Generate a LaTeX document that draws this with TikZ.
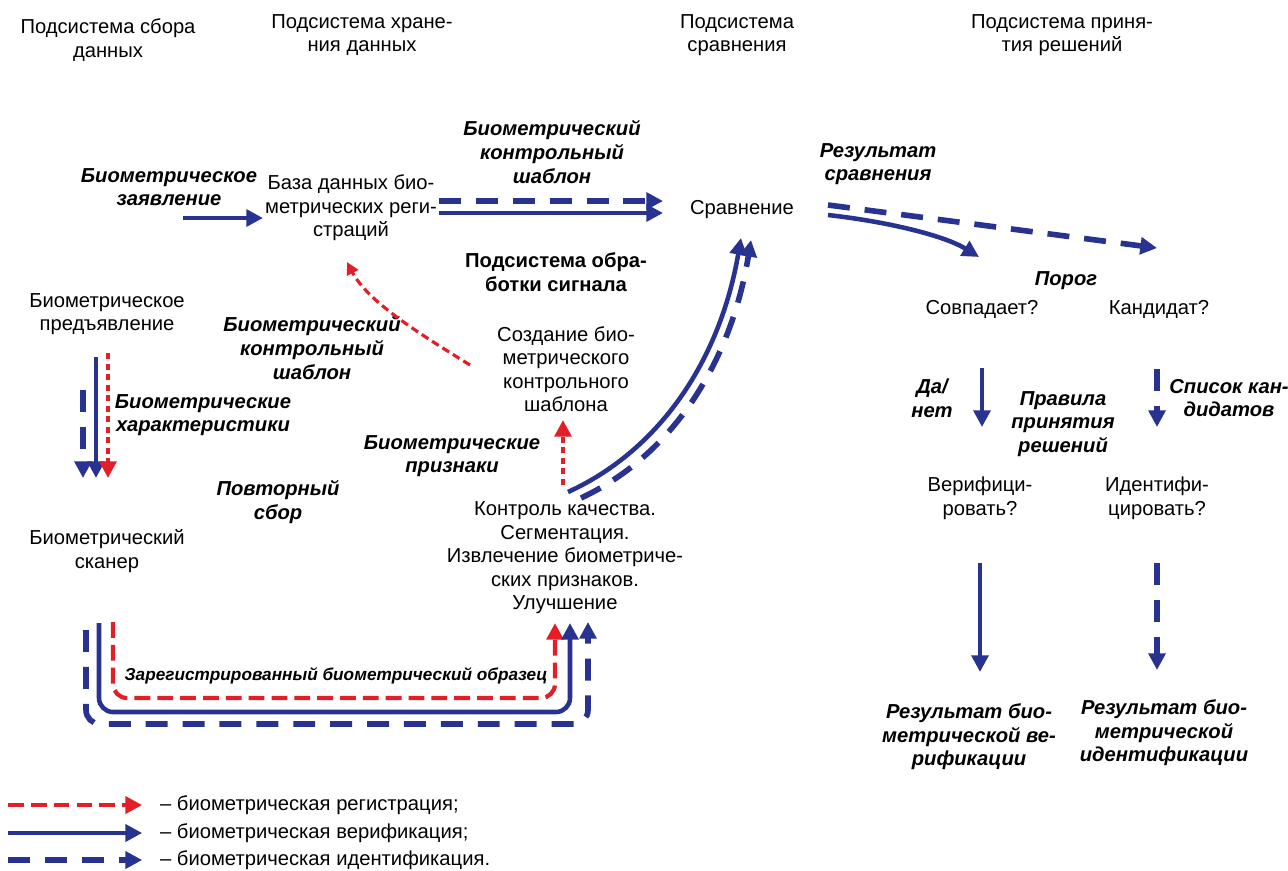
\documentclass[tikz,border=0pt]{standalone}
\usepackage{fontspec}
\setmainfont{Liberation Sans}
\usepackage{tikz}
\usetikzlibrary{arrows.meta}
\definecolor{vblue}{RGB}{40,50,145}
\definecolor{rred}{RGB}{228,30,38}

\begin{document}
\begin{tikzpicture}[x=0.02cm,y=-0.02cm,
  every node/.style={font=\fontsize{11.5}{13.4}\selectfont,align=center,inner sep=1pt},
  lbl/.style={font=\fontsize{11.5}{13.4}\selectfont\bfseries\itshape},
  arrowhd/.style={-{Triangle[length=9.5pt,width=9.5pt]}},
  ver/.style={arrowhd,draw=vblue,line width=2.6pt},
  ident/.style={arrowhd,draw=vblue,line width=3.2pt,dash pattern=on 12.5pt off 8.5pt},
  reg/.style={arrowhd,draw=rred,line width=2.4pt,dash pattern=on 9pt off 4pt},
  regdot/.style={reg,dash pattern=on 3.5pt off 2.5pt},
  regthin/.style={draw=rred,line width=1.8pt,dash pattern=on 4.5pt off 2.5pt,-{Triangle[length=7pt,width=7pt]}}]
\useasboundingbox (0,0) rectangle (1288,870);
%\draw [help lines,step=50] (0,0) grid (1288,870);
% headings
\node (hsbor) at (108,40) {Подсистема сбора\\данных};
\node (hhran) at (362,35) {Подсистема хране-\\ния данных};
\node (hsrav) at (737,35) {Подсистема\\сравнения};
\node (hprin) at (1062,35) {Подсистема приня-\\тия решений};

% storage and comparison
\node[lbl] (zay) at (169,187) {Биометрическое\\заявление};
\node (db) at (351,208) {База данных био-\\метрических реги-\\страций};
\node[lbl] (shab1) at (552,152) {Биометрический\\контрольный\\шаблон};
\node (cmp) at (742,210) {Сравнение};
\node[lbl] (rez) at (878,164) {Результат\\сравнения};
\coordinate (zayout) at (183,218);
\draw[ver] (zayout) -- (zayout -| db.west);
\coordinate (cmpin1) at (663,201); \coordinate (cmpin2) at (663,213);
\draw[ident] (db.east |- cmpin1) -- (cmpin1);
\draw[ver] (db.east |- cmpin2) -- (cmpin2);

% signal processing
\node[font=\fontsize{11.5}{13.4}\selectfont\bfseries] (hobr) at (556,272) {Подсистема обра-\\ботки сигнала};
\node[lbl] (shab2) at (312,348) {Биометрический\\контрольный\\шаблон};
\node (sozd) at (566,369) {Создание био-\\метрического\\контрольного\\шаблона};
\node[lbl] (priz) at (452,456) {Биометрические\\признаки};
\node (kontr) at (565,558) {Контроль качества.\\Сегментация.\\Извлечение биометриче-\\ских признаков.\\Улучшение};
\coordinate (sozdout) at (470,365); \coordinate (dbin) at (347,262);
\draw[regthin] (sozdout) .. controls (420,334) and (368,302) .. (dbin);
\coordinate (kup) at (563,485); \coordinate (sozdin) at (563,420);
\draw[regdot] (kup) -- (sozdin);
\coordinate (kv) at (568,492); \coordinate (kid) at (581,498);
\coordinate (cv) at (741,238); \coordinate (cid) at (751,240);
\draw[ver] (kv) .. controls (660,450) and (720,360) .. (cv);
\draw[ident] (kid) .. controls (673,455) and (731,362) .. (cid);

% data capture
\node (pred) at (107,314) {Биометрическое\\предъявление};
\node[lbl] (har) at (203,415) {Биометрические\\характеристики};
\node[lbl] (povt) at (278,502) {Повторный\\сбор};
\node (scan) at (107,551) {Биометрический\\сканер};
\coordinate (p1) at (83,390); \coordinate (s1) at (83,478);
\coordinate (p2) at (96,357); \coordinate (s2) at (96,478);
\coordinate (p3) at (108,353); \coordinate (s3) at (108,478);
\draw[ident] (p1) -- (s1);
\draw[ver] (p2) -- (s2);
\draw[regdot] (p3) -- (s3);

% sample back to signal processing
\draw[reg,rounded corners=8pt] (113,622) -- (113,698) -- (555,698) -- (555,623);
\draw[ver,rounded corners=8pt] (99,623) -- (99,712) -- (570,712) -- (570,623);
\draw[ident,rounded corners=8pt] (86,630) -- (86,724) -- (588,724) -- (588,622);
\node[font=\fontsize{9.8}{12}\selectfont\bfseries\itshape] (obr) at (336,676) {Зарегистрированный биометрический образец};

% decision
\node[lbl] (porog) at (1066,281) {Порог};
\node (sovp) at (982,309) {Совпадает?};
\node (kand) at (1159,309) {Кандидат?};
\coordinate (sovpin) at (979,257); \coordinate (kandin) at (1157,248);
\draw[ver] (828,215) .. controls (890,222) and (945,236) .. (sovpin);
\draw[ident] (828,205) -- (kandin);
\node[lbl] (danet) at (932,398) {Да/\\нет};
\node[lbl] (prav) at (1063,424) {Правила\\принятия\\решений};
\node[lbl] (spis) at (1229,398) {Список кан-\\дидатов};
\node (verif) at (980,498) {Верифици-\\ровать?};
\node (ident) at (1157,498) {Идентифи-\\цировать?};
\draw[ver] (982,368) -- (982,427);
\draw[ident] (1157,369) -- (1157,427);
\node[lbl] (rver) at (969,737) {Результат био-\\метрической ве-\\рификации};
\node[lbl] (rid) at (1164,733) {Результат био-\\метрической\\идентификации};
\draw[ver] (980,563) -- (980,672);
\draw[ident] (1157,563) -- (1157,670);

% legend
\node[anchor=west] (leg1) at (158,805) {– биометрическая регистрация;};
\node[anchor=west] (leg2) at (158,833) {– биометрическая верификация;};
\node[anchor=west] (leg3) at (158,860) {– биометрическая идентификация.};
\coordinate (l1) at (8,805); \coordinate (l2) at (8,833); \coordinate (l3) at (8,860);
\draw[reg,shorten >=9pt] (l1) -- (leg1.west);
\draw[ver,shorten >=9pt] (l2) -- (leg2.west);
\draw[ident,shorten >=9pt] (l3) -- (leg3.west);
\end{tikzpicture}
\end{document}
